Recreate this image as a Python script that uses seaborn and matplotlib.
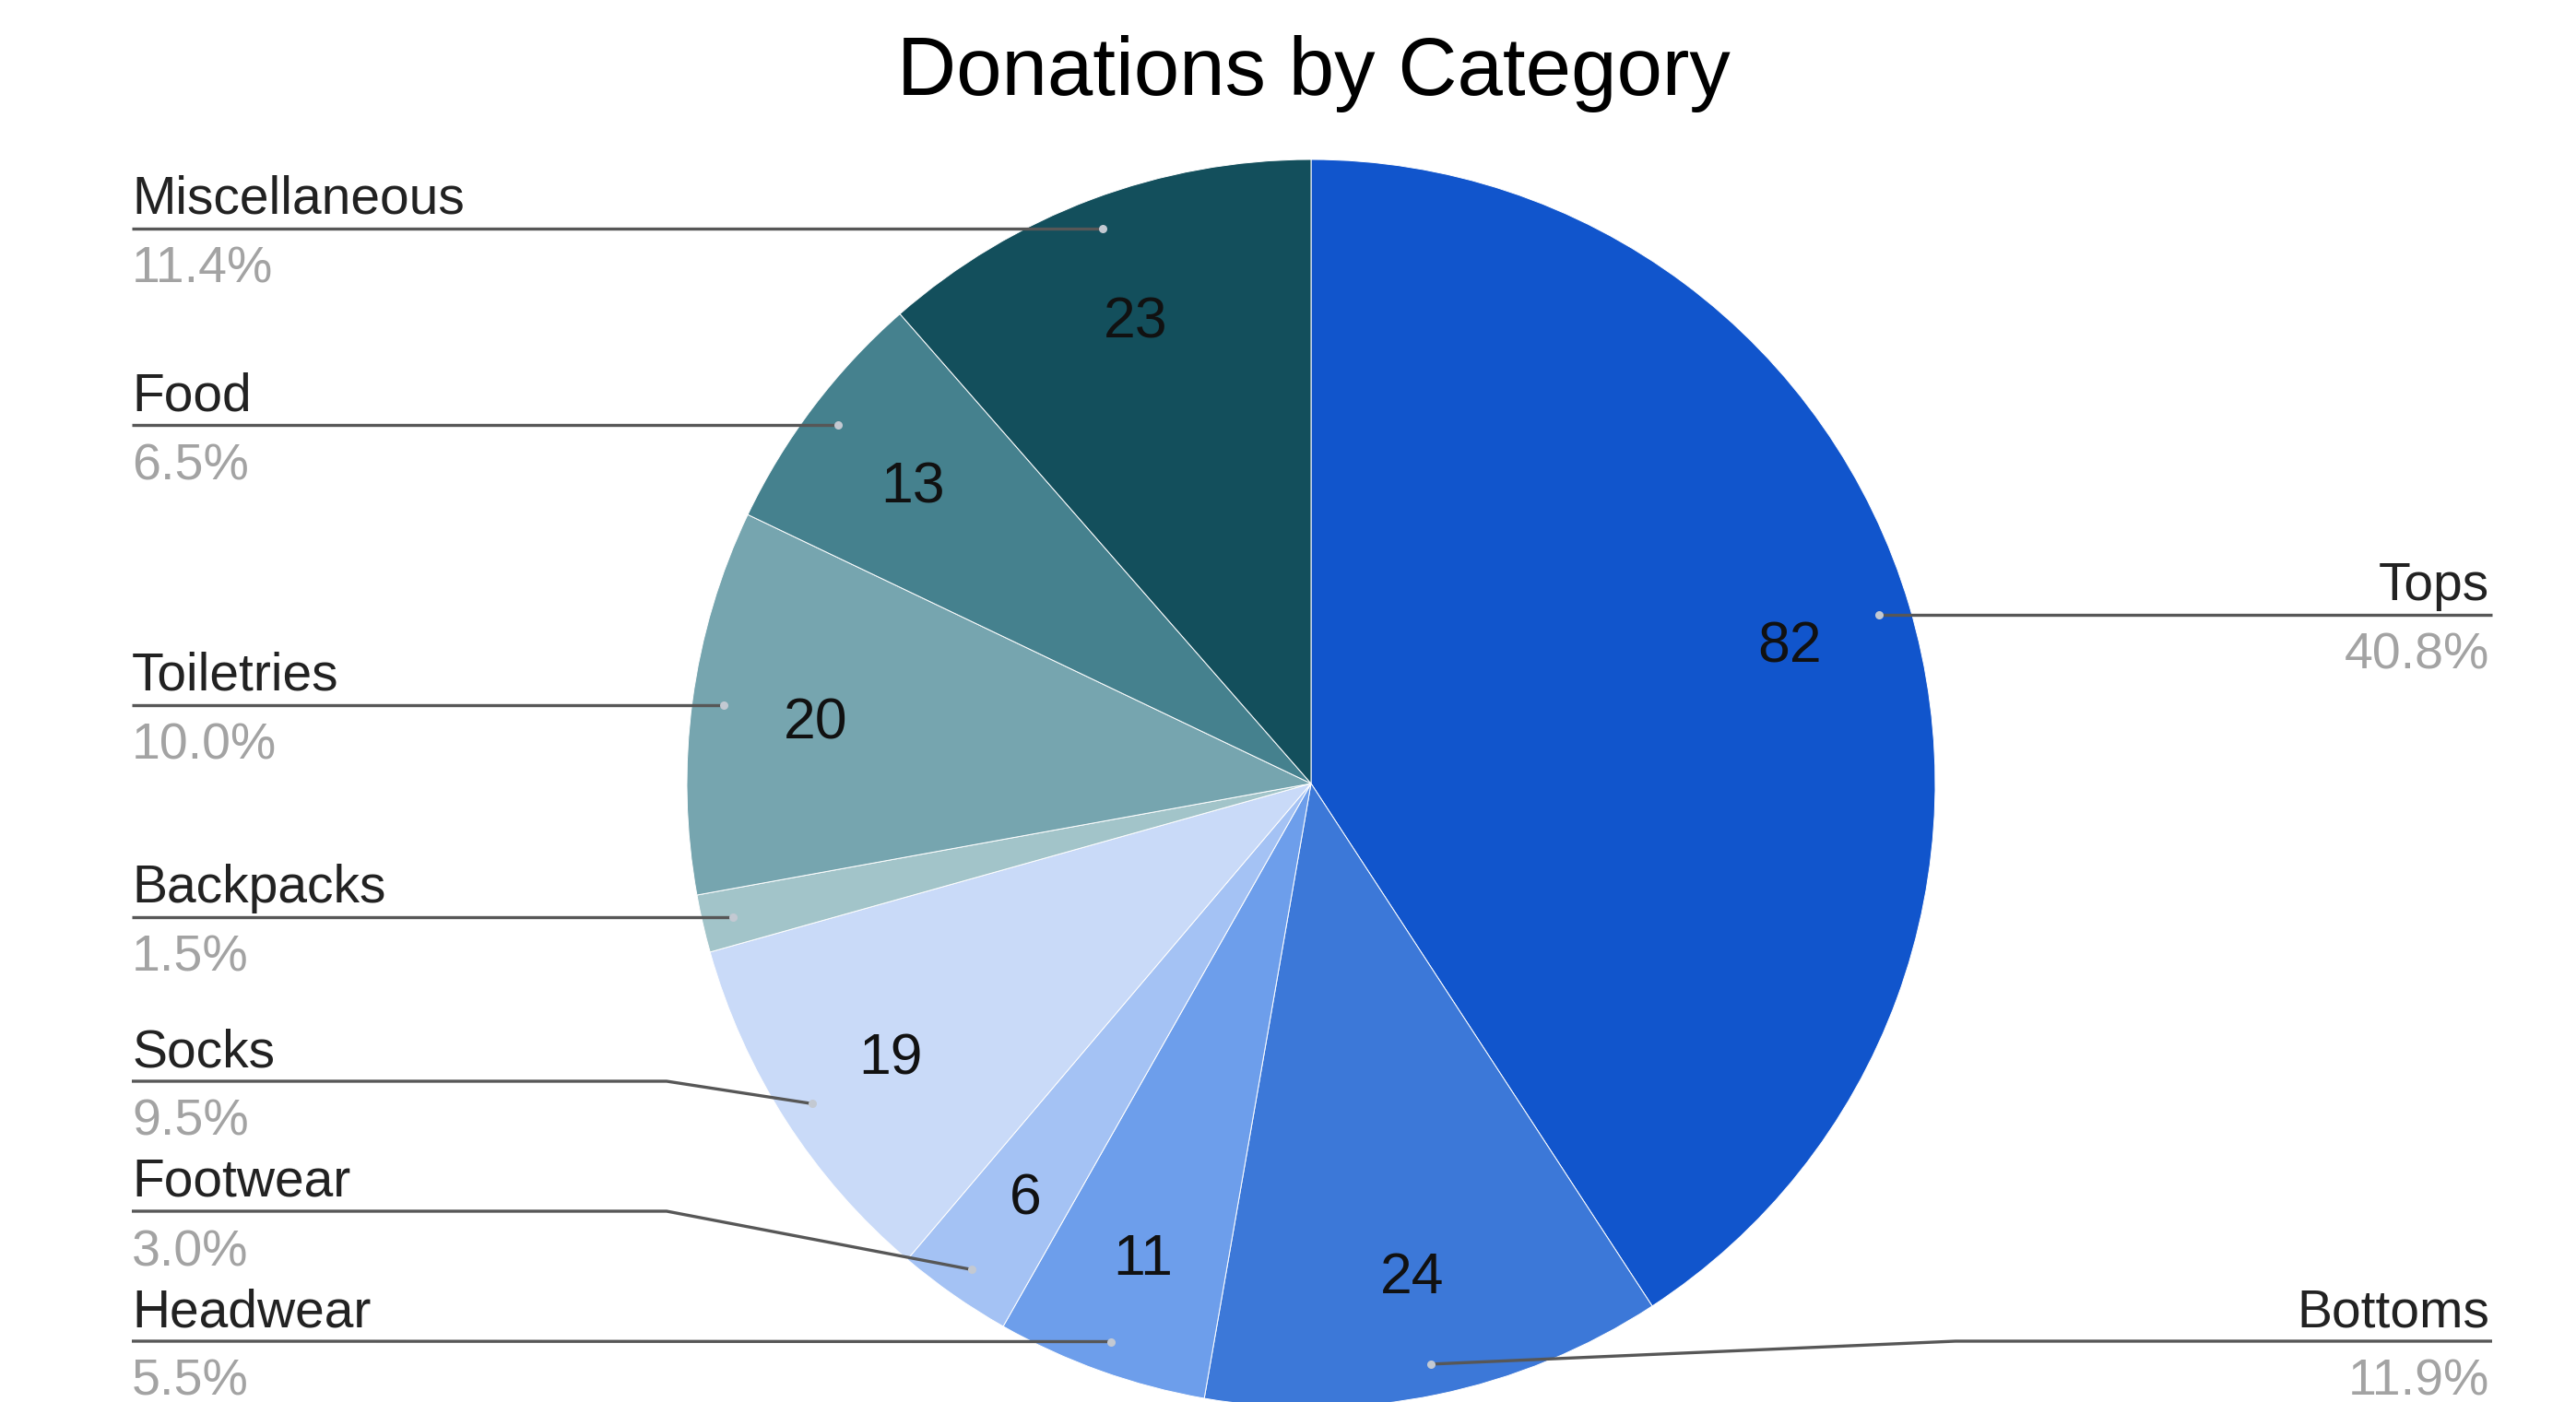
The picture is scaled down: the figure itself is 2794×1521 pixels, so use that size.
import numpy as np
import matplotlib
matplotlib.use("Agg")
import matplotlib.pyplot as plt
import seaborn as sns

# ---------------- data ----------------
categories = ["Tops", "Bottoms", "Headwear", "Footwear", "Socks",
              "Backpacks", "Toiletries", "Food", "Miscellaneous"]
counts = [82, 24, 11, 6, 19, 3, 20, 13, 23]
slice_colors = ["#1155cc", "#3c78d8", "#6d9eeb", "#a4c2f4", "#c9daf8",
                "#a2c4c9", "#76a5af", "#45818e", "#134f5c"]
title = "Donations by Category"

# ---------------- layout (pixels) ----------------
W, H = 2794, 1521
CX, CY, R = 1422, 850, 677          # pie centre (screen y, down) and radius
LEFT_X, RIGHT_X = 143, 2703
LINE_MAX_Y, LINE_GAP = 1455, 141
ELBOW_PAD = 22

sns.set_theme(style="white")
plt.rcParams["font.family"] = ["Liberation Sans", "DejaVu Sans"]

fig = plt.figure(figsize=(W / 100, H / 100), dpi=100)
ax = fig.add_axes([0, 0, 1, 1])
palette = sns.color_palette(slice_colors)

wedges, _ = ax.pie(counts, colors=palette, startangle=90, counterclock=False,
                   radius=R, center=(CX, H - CY),
                   wedgeprops=dict(edgecolor="white", linewidth=0.7))
ax.set_xlim(0, W)
ax.set_ylim(0, H)
ax.set_aspect("equal")
ax.axis("off")

total = sum(counts)
mids = [np.deg2rad((w.theta1 + w.theta2) / 2) for w in wedges]

# value labels inside slices
for v, th in zip(counts, mids):
    if v / total >= 0.02:
        ax.text(CX + 0.8 * R * np.cos(th), (H - CY) + 0.8 * R * np.sin(th), str(v),
                ha="center", va="center_baseline", fontsize=45, color="#111111")

# outside labels with leader lines
items = []
for name, v, th in zip(categories, counts, mids):
    dx = CX + 0.95 * R * np.cos(th)
    dy = CY - 0.95 * R * np.sin(th)      # screen y
    side = "right" if np.cos(th) > 0 else "left"
    items.append(dict(name=name, v=v, dx=dx, dy=dy, side=side))

for side in ("left", "right"):
    group = sorted([it for it in items if it["side"] == side], key=lambda d: -d["dy"])
    prev = None
    for it in group:
        y = min(it["dy"], LINE_MAX_Y)
        if prev is not None:
            y = min(y, prev - LINE_GAP)
        it["ly"] = y
        prev = y

for it in items:
    ly = it["ly"]
    if it["side"] == "left":
        x0, ex, ha, tx = LEFT_X, CX - R - ELBOW_PAD, "left", LEFT_X
    else:
        x0, ex, ha, tx = RIGHT_X, CX + R + ELBOW_PAD, "right", RIGHT_X - 3
    if abs(ly - it["dy"]) < 3:
        xs = [x0, it["dx"]]
        ys = [ly, it["dy"]]
    else:
        xs = [x0, ex, it["dx"]]
        ys = [ly, ly, it["dy"]]
    ax.plot(xs, [H - y for y in ys], color="#575757", lw=2.4,
            solid_capstyle="butt", zorder=3)
    ax.plot([it["dx"]], [H - it["dy"]], "o", ms=6.5, color="#c3c9d2",
            mec="none", zorder=4)
    ax.text(tx, H - (ly - 16), it["name"], ha=ha, va="baseline",
            fontsize=41, color="#222222")
    ax.text(tx, H - (ly + 59), f"{it['v'] / total * 100:.1f}%", ha=ha,
            va="baseline", fontsize=40, color="#a3a3a3")

ax.text(1425, H - 103, title, ha="center", va="baseline",
        fontsize=64, color="#000000")

fig.savefig("out.png", dpi=100, facecolor="white")
